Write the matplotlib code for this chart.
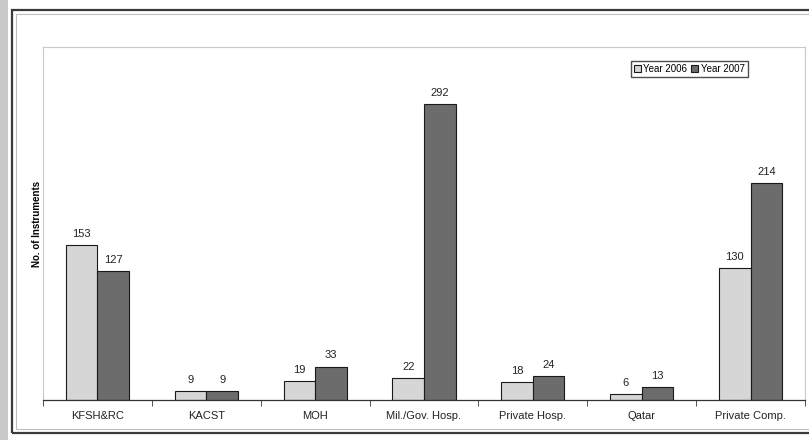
import numpy as np
import matplotlib
matplotlib.use("Agg")
import matplotlib.pyplot as plt
from matplotlib.patches import Rectangle

categories = ["KFSH&RC", "KACST", "MOH", "Mil./Gov. Hosp.", "Private Hosp.", "Qatar", "Private Comp."]
year_2006 = [153, 9, 19, 22, 18, 6, 130]
year_2007 = [127, 9, 33, 292, 24, 13, 214]

plt.rcParams['font.family'] = ['Liberation Sans', 'DejaVu Sans']

fig = plt.figure(figsize=(8.09, 4.40), dpi=100)
fig.patch.set_facecolor("white")

# outer frame
fig.patches.append(Rectangle((0, 0), 8 / 809, 1, transform=fig.transFigure,
                             facecolor="#c9c9c9", edgecolor="none", zorder=0))
fig.patches.append(Rectangle((12 / 809, 7 / 440), 1.0, 423 / 440, transform=fig.transFigure,
                             facecolor="none", edgecolor="#3a3a3a", linewidth=1.6, zorder=1))
fig.patches.append(Rectangle((16 / 809, 11 / 440), 1.0, 415 / 440, transform=fig.transFigure,
                             facecolor="none", edgecolor="#bdbdbd", linewidth=0.8, zorder=1))

ax = fig.add_axes([43 / 809, 40 / 440, 762 / 809, 353 / 440])
ax.set_facecolor("white")

x = np.arange(len(categories))
w = 0.29
b1 = ax.bar(x - w / 2, year_2006, w, color="#d6d6d6", edgecolor="#1a1a1a", linewidth=0.8, label="Year 2006")
b2 = ax.bar(x + w / 2, year_2007, w, color="#6c6c6c", edgecolor="#1a1a1a", linewidth=0.8, label="Year 2007")

for bars in (b1, b2):
    for r in bars:
        ax.text(r.get_x() + r.get_width() / 2, r.get_height() + 6, str(int(r.get_height())),
                ha="center", va="bottom", fontsize=8, color="#222222")

ax.set_xlim(-0.5, len(categories) - 0.5)
ax.set_ylim(0, 348)

ax.set_xticks(x)
ax.set_xticklabels(categories, fontsize=8, color="#222222")
ax.tick_params(axis="x", which="major", length=0, pad=8)
ax.set_xticks(np.arange(-0.5, len(categories), 1.0), minor=True)
ax.tick_params(axis="x", which="minor", length=4, direction="out", color="#333333")
ax.set_yticks([])

for s in ["top", "right", "left"]:
    ax.spines[s].set_color("#c8c8c8")
    ax.spines[s].set_linewidth(0.8)
ax.spines["bottom"].set_color("#333333")
ax.spines["bottom"].set_linewidth(0.9)

ax.set_ylabel("No. of Instruments", fontsize=7, fontweight="bold", labelpad=1)

leg = ax.legend(loc="upper right", bbox_to_anchor=(0.925, 0.96), ncol=2, fontsize=7,
                frameon=True, fancybox=False, handlelength=0.7, handleheight=0.7,
                handletextpad=0.3, columnspacing=0.4, borderpad=0.3, borderaxespad=0)
leg.get_frame().set_edgecolor("#222222")
leg.get_frame().set_linewidth(1.0)

fig.savefig("out.png", dpi=100, facecolor=fig.get_facecolor())
